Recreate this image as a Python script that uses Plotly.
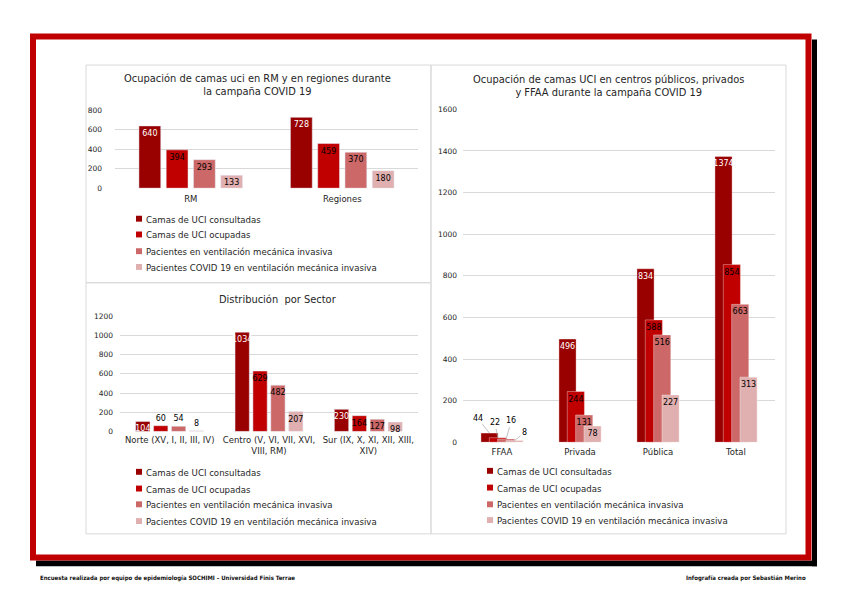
import plotly.graph_objects as go

# ---------------- data ----------------
series_names = [
    "Camas de UCI consultadas",
    "Camas de UCI ocupadas",
    "Pacientes en ventilación mecánica invasiva",
    "Pacientes COVID 19 en ventilación mecánica invasiva",
]

zona_cats = ["RM", "Regiones"]
zona_consultadas = [640, 728]
zona_ocupadas = [394, 459]
zona_vmi = [293, 370]
zona_covid_vmi = [133, 180]

sector_cats = ["Norte (XV, I, II, III, IV)", "Centro (V, VI, VII, XVI,<br>VIII, RM)",
               "Sur (IX, X, XI, XII, XIII,<br>XIV)"]
sector_consultadas = [104, 1034, 230]
sector_ocupadas = [60, 629, 164]
sector_vmi = [54, 482, 127]
sector_covid_vmi = [8, 207, 98]

centro_cats = ["FFAA", "Privada", "Pública", "Total"]
centro_consultadas = [44, 496, 834, 1374]
centro_ocupadas = [22, 244, 588, 854]
centro_vmi = [16, 131, 516, 663]
centro_covid_vmi = [8, 78, 227, 313]

zona_ticks = [0, 200, 400, 600, 800]
sector_ticks = [0, 200, 400, 600, 800, 1000, 1200]
centro_ticks = [0, 200, 400, 600, 800, 1000, 1200, 1400, 1600]

# ---------------- style ----------------
W, H = 841, 595
FONT = "DejaVu Sans"
colors = ["#990000", "#C00000", "#CC6868", "#E0AFAF"]
label_colors = ["white", "black", "black", "black"]
GRID = "#D9D9D9"


def fx(px):
    return px / W


def fy(py):
    return 1 - py / H


fig = go.Figure()

zona_series = [zona_consultadas, zona_ocupadas, zona_vmi, zona_covid_vmi]
sector_series = [sector_consultadas, sector_ocupadas, sector_vmi, sector_covid_vmi]
centro_series = [centro_consultadas, centro_ocupadas, centro_vmi, centro_covid_vmi]

for i, vals in enumerate(zona_series):
    fig.add_trace(go.Bar(
        x=zona_cats, y=vals, name=series_names[i], marker_color=colors[i],
        text=[str(v) for v in vals], textposition="inside", insidetextanchor="end",
        textangle=0, constraintext="none",
        textfont=dict(color=label_colors[i], size=8, family=FONT),
        xaxis="x", yaxis="y", showlegend=False, cliponaxis=False,
    ))

for i, vals in enumerate(sector_series):
    # very short bars (other than the first series) get their label just above the bar
    tp = ["outside" if (i > 0 and v < 70) else "inside" for v in vals]
    fig.add_trace(go.Bar(
        x=sector_cats, y=vals, name=series_names[i], marker_color=colors[i],
        text=[str(v) for v in vals], textposition=tp, insidetextanchor="end",
        textangle=0, constraintext="none",
        textfont=dict(color=label_colors[i], size=8, family=FONT),
        xaxis="x2", yaxis="y2", showlegend=False, cliponaxis=False,
    ))

bar_w = 0.22
bar_step = 0.107
offsets = [-0.27 + k * bar_step for k in range(4)]
for i, vals in enumerate(centro_series):
    tp = ["none"] + ["inside"] * (len(vals) - 1)
    fig.add_trace(go.Bar(
        x=centro_cats, y=vals, name=series_names[i], marker_color=colors[i],
        marker_line=dict(color="rgba(255,255,255,0.6)", width=0.6),
        width=bar_w, offset=offsets[i],
        text=[str(v) for v in vals], textposition=tp, insidetextanchor="end",
        textangle=0, constraintext="none",
        textfont=dict(color=label_colors[i], size=8, family=FONT),
        xaxis="x3", yaxis="y3", showlegend=False, cliponaxis=False,
    ))

# FFAA labels with leader lines (best-fit style)
ffaa_label_shift = [(-12, -15), (-3, -15), (5, -18), (10, -8)]
annotations = []
for i, vals in enumerate(centro_series):
    ax_, ay_ = ffaa_label_shift[i]
    annotations.append(dict(
        x=0 + offsets[i] + bar_w / 2, y=vals[0], xref="x3", yref="y3",
        text=str(vals[0]), showarrow=True, arrowhead=0, arrowwidth=0.7,
        arrowcolor="#A6A6A6", ax=ax_, ay=ay_, standoff=0,
        font=dict(size=8, color="black", family=FONT),
    ))

# titles
title_font = dict(size=9.9, color="#262626", family=FONT)
annotations += [
    dict(x=fx(257), y=fy(82), xref="paper", yref="paper", showarrow=False,
         xanchor="center", yanchor="middle",
         text="Ocupación de camas uci en RM y en regiones durante<br>la campaña COVID 19",
         font=title_font, align="center"),
    dict(x=fx(608), y=fy(83), xref="paper", yref="paper", showarrow=False,
         xanchor="center", yanchor="middle",
         text="Ocupación de camas UCI en centros públicos, privados<br>y FFAA durante la campaña COVID 19",
         font=title_font, align="center"),
    dict(x=fx(278), y=fy(300), xref="paper", yref="paper", showarrow=False,
         xanchor="center", yanchor="middle",
         text="Distribución  por Sector", font=title_font, align="center"),
    dict(x=fx(38), y=fy(583), xref="paper", yref="paper", showarrow=False,
         xanchor="left", yanchor="middle",
         text="<b>Encuesta realizada por equipo de epidemiología SOCHIMI – Universidad Finis Terrae</b>",
         font=dict(size=6, color="#111111", family="DejaVu Sans Condensed")),
    dict(x=fx(808), y=fy(583), xref="paper", yref="paper", showarrow=False,
         xanchor="right", yanchor="middle",
         text="<b>Infografía creada por Sebastián Merino</b>",
         font=dict(size=6, color="#111111", family="DejaVu Sans Condensed")),
]

shapes = []
# legends (manual)
legend_specs = [(139, [219, 235, 252, 268]), (139, [476, 493, 509, 526]), (490, [475, 492, 509, 525])]
for lx, lys in legend_specs:
    for i, ly in enumerate(lys):
        shapes.append(dict(type="rect", xref="paper", yref="paper",
                           x0=fx(lx - 3), x1=fx(lx + 3), y0=fy(ly + 2), y1=fy(ly - 4),
                           fillcolor=colors[i], line=dict(width=0)))
        annotations.append(dict(x=fx(lx + 5), y=fy(ly), xref="paper", yref="paper",
                                xanchor="left", yanchor="middle", showarrow=False,
                                text=series_names[i],
                                font=dict(size=8.6, color="#262626", family=FONT)))

# panel borders
for (x0, y0, x1, y1) in [(86, 62, 431, 283), (86, 283, 431, 538), (431, 62, 786, 538)]:
    shapes.append(dict(type="rect", xref="paper", yref="paper", layer="below",
                       x0=fx(x0), x1=fx(x1), y0=fy(y1), y1=fy(y0),
                       line=dict(color=GRID, width=1)))

# shadow and red frame
shapes.append(dict(type="rect", xref="paper", yref="paper", x0=fx(812), x1=fx(817),
                   y0=fy(571), y1=fy(36), fillcolor="black", line=dict(width=0)))
shapes.append(dict(type="rect", xref="paper", yref="paper", x0=fx(36), x1=fx(817),
                   y0=fy(571), y1=fy(565), fillcolor="black", line=dict(width=0)))
shapes.append(dict(type="rect", xref="paper", yref="paper", x0=fx(33), x1=fx(808.5),
                   y0=fy(562), y1=fy(33), line=dict(color="#C00000", width=6)))

tickfont = dict(size=7.5, color="#262626", family=FONT)
catfont = dict(size=8.5, color="#262626", family=FONT)

fig.update_layout(
    width=W, height=H, margin=dict(l=0, r=0, t=0, b=0),
    paper_bgcolor="white", plot_bgcolor="white",
    barmode="group", bargap=0.28, bargroupgap=0.2,
    showlegend=False,
    annotations=annotations, shapes=shapes,
    font=dict(family=FONT),
    xaxis=dict(domain=[fx(115), fx(418)], anchor="y", tickfont=catfont, ticks="",
               ticklabelstandoff=4, showgrid=False),
    yaxis=dict(domain=[fy(187), fy(108)], anchor="x", range=[0, 800], tickvals=zona_ticks,
               tickfont=tickfont, gridcolor=GRID, zeroline=False, ticklabelstandoff=12),
    xaxis2=dict(domain=[fx(120), fx(418)], anchor="y2", tickfont=catfont, ticks="",
                ticklabelstandoff=2, showgrid=False),
    yaxis2=dict(domain=[fy(434), fy(317)], anchor="x2", range=[0, 1200], tickvals=sector_ticks,
                tickfont=tickfont, gridcolor=GRID, zeroline=False, ticklabelstandoff=6),
    xaxis3=dict(domain=[fx(463), fx(775)], anchor="y3", tickfont=catfont, ticks="",
                ticklabelstandoff=3, showgrid=False),
    yaxis3=dict(domain=[fy(445), fy(107)], anchor="x3", range=[0, 1600], tickvals=centro_ticks,
                tickfont=tickfont, gridcolor=GRID, zeroline=False, ticklabelstandoff=5),
)

fig.write_html("out.html", config={"displayModeBar": False},
               post_script="document.body.style.margin='0px';")
